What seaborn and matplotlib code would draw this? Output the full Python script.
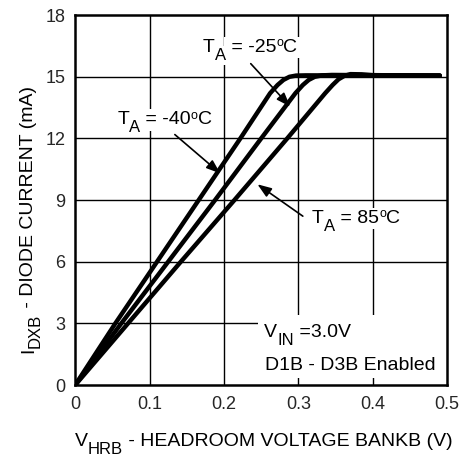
import pandas as pd
import matplotlib
matplotlib.use('Agg')
import matplotlib.pyplot as plt
from matplotlib.patches import Rectangle
import seaborn as sns

# Diode current vs headroom voltage
v_m40 = [0, 0.054, 0.110, 0.166, 0.222, 0.262, 0.272, 0.280, 0.288, 0.297, 0.310, 0.490]
i_m40 = [0, 3, 6, 9, 12, 14.2, 14.6, 14.85, 15.0, 15.06, 15.07, 15.06]

v_m25 = [0, 0.062, 0.125, 0.188, 0.250, 0.296, 0.306, 0.314, 0.322, 0.332, 0.345, 0.490]
i_m25 = [0, 3, 6, 9, 12, 14.2, 14.6, 14.85, 15.0, 15.07, 15.09, 15.06]

v_85 = [0, 0.071, 0.142, 0.214, 0.285, 0.336, 0.346, 0.354, 0.362, 0.370, 0.385, 0.400, 0.490]
i_85 = [0, 3, 6, 9, 12, 14.2, 14.6, 14.88, 15.05, 15.13, 15.12, 15.08, 15.06]

x_ticks = [0, 0.1, 0.2, 0.3, 0.4, 0.5]
x_ticklabels = ['0', '0.1', '0.2', '0.3', '0.4', '0.5']
y_ticks = [0, 3, 6, 9, 12, 15, 18]
y_ticklabels = ['0', '3', '6', '9', '12', '15', '18']

df = pd.concat([
    pd.DataFrame({'v': v_m40, 'i': i_m40, 'temp': '-40'}),
    pd.DataFrame({'v': v_m25, 'i': i_m25, 'temp': '-25'}),
    pd.DataFrame({'v': v_85, 'i': i_85, 'temp': '85'}),
])

sns.set_style('white')
plt.rcParams['font.family'] = ['Liberation Sans', 'DejaVu Sans']

FS = 14      # main text size
SUB = 12     # subscript size


def chain(ax, xy, coords, pieces, vertical=False, color='black', zorder=4, bbox=None):
    """Place text pieces one after another; each piece is (text, size, shift)."""
    s, fs, off = pieces[0]
    kw = dict(color=color, zorder=zorder, annotation_clip=False, bbox=bbox)
    if vertical:
        t0 = ax.annotate(s, xy=xy, xycoords=coords, fontsize=fs, rotation=90,
                         rotation_mode='anchor', ha='left', va='baseline', **kw)
    else:
        t0 = ax.annotate(s, xy=xy, xycoords=coords, fontsize=fs,
                         ha='left', va='baseline', **kw)
    prev = t0
    for s, fs, off in pieces[1:]:
        if vertical:
            prev = ax.annotate(s, xy=(0, 1), xycoords=(t0, prev), xytext=(-off, 0),
                               textcoords='offset points', fontsize=fs, rotation=90,
                               ha='left', va='bottom', **kw)
        else:
            prev = ax.annotate(s, xy=(1, 0), xycoords=(prev, t0), xytext=(0, off),
                               textcoords='offset points', fontsize=fs,
                               ha='left', va='bottom', **kw)
    return t0


def boxed(ax, xy, pieces):
    # white boxes first (they break the grid lines), then the black text on top
    box = dict(facecolor='white', edgecolor='none', pad=1.5)
    chain(ax, xy, 'data', pieces, color='white', zorder=3.5, bbox=box)
    chain(ax, xy, 'data', pieces, zorder=4)


fig = plt.figure(figsize=(4.61, 4.59), dpi=100)
ax = fig.add_axes([0.163, 0.161, 0.807, 0.806])

for x in x_ticks[1:-1]:
    ax.axvline(x, color='black', lw=1.0, zorder=1)
for y in y_ticks[1:-1]:
    ax.axhline(y, color='black', lw=1.0, zorder=1)

sns.lineplot(data=df, x='v', y='i', units='temp', estimator=None, sort=False,
             color='black', lw=3.2, ax=ax, zorder=3)

ax.set_xlim(0, 0.5)
ax.set_ylim(0, 18)
ax.set_xticks(x_ticks)
ax.set_xticklabels(x_ticklabels, fontsize=13)
ax.set_yticks(y_ticks)
ax.set_yticklabels(y_ticklabels, fontsize=13)
ax.tick_params(axis='x', length=0, pad=8)
ax.tick_params(axis='y', length=0, pad=7)
ax.set_xlabel('')
ax.set_ylabel('')
for s in ax.spines.values():
    s.set_color('black')
    s.set_linewidth(1.8)
    s.set_zorder(5)

# axis titles with full-size subscripts
chain(ax, (75, 13), 'figure pixels',
      [('V', FS, 0), ('HRB', SUB, -5), (' - HEADROOM VOLTAGE BANKB (V)', FS, 0)])
chain(ax, (33, 106), 'figure pixels',
      [('I', FS, 0), ('DXB', SUB, -5.5), (' - DIODE CURRENT (mA)', FS, 0)],
      vertical=True)

# temperature labels
boxed(ax, (0.172, 16.2), [('T', FS, 0), ('A', SUB, -5), (' = -25', FS, 0),
                          ('o', 9, 5), ('C', FS, 0)])
boxed(ax, (0.0565, 12.68), [('T', FS, 0), ('A', SUB, -5), (' = -40', FS, 0),
                            ('o', 9, 5), ('C', FS, 0)])
boxed(ax, (0.3185, 7.89), [('T', FS, 0), ('A', SUB, -5), (' = 85', FS, 0),
                           ('o', 9, 5), ('C', FS, 0)])

arrow = dict(arrowstyle='-|>,head_length=0.6,head_width=0.22', color='black',
             lw=1.2, mutation_scale=14, shrinkA=0, shrinkB=0)
ax.annotate('', xy=(0.289, 13.55), xytext=(0.236, 15.64), arrowprops=arrow, zorder=4)
ax.annotate('', xy=(0.195, 10.3), xytext=(0.134, 12.19), arrowprops=arrow, zorder=4)
ax.annotate('', xy=(0.245, 9.77), xytext=(0.306, 8.22), arrowprops=arrow, zorder=4)

# condition note in the lower right corner
ax.add_patch(Rectangle((0.492, 0.019), 0.508, 0.17, transform=ax.transAxes,
                       facecolor='white', edgecolor='none', zorder=2))
chain(ax, (0.254, 2.32), 'data', [('V', FS, 0), ('IN', SUB, -5), (' =3.0V', FS, 0)])
chain(ax, (0.255, 0.73), 'data', [('D1B - D3B Enabled', FS, 0)])

fig.savefig('out.png', dpi=100)
